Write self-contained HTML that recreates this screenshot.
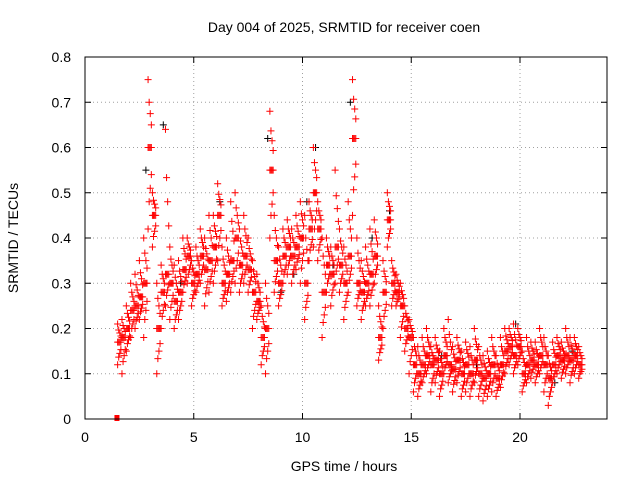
<!DOCTYPE html>
<html><head><meta charset="utf-8"><style>
body{margin:0;background:#fff}
svg text{font-family:"Liberation Sans",sans-serif;font-size:14px;fill:#000}
</style></head><body>
<svg id="chart" width="640" height="480" xmlns="http://www.w3.org/2000/svg">
<rect width="640" height="480" fill="#fff"/>
<g id="grid"></g>
<g id="axes"></g>
<g id="marks"></g>
<rect x="85" y="57" width="522" height="362" fill="none" stroke="#000" stroke-width="1"/>
<text x="344" y="32" text-anchor="middle">Day 004 of 2025, SRMTID for receiver coen</text>
<text transform="translate(18,238) rotate(-90)" text-anchor="middle">SRMTID / TECUs</text>
<text x="344" y="471" text-anchor="middle">GPS time / hours</text>
</svg>
<script>
const xTicks=[0,5,10,15,20];
const yTicks=[0,0.1,0.2,0.3,0.4,0.5,0.6,0.7,0.8];
const yTickLabels=["0","0.1","0.2","0.3","0.4","0.5","0.6","0.7","0.8"];
const startHour=1.5, stepHour=0.2;
const srmtidLow=[.12,.10,.15,.18,.20,.22,.18,.42,.38,.10,.20,.25,.22,.20,.22,.28,.30,.25,.28,.30,.25,.28,.30,.35,.25,.26,.28,.30,.28,.30,.28,.20,.22,.12,.10,.40,.28,.25,.30,.32,.30,.33,.30,.22,.35,.38,.35,.18,.28,.25,.30,.28,.22,.28,.45,.25,.22,.25,.25,.30,.13,.20,.38,.25,.25,.18,.15,.10,.06,.05,.08,.10,.06,.08,.05,.10,.08,.06,.08,.05,.06,.05,.08,.05,.04,.05,.06,.05,.07,.10,.12,.10,.12,.06,.08,.09,.08,.10,.06,.03,.08,.10,.09,.10,.08,.10,.09];
const srmtidMid=[.17,.18,.20,.24,.25,.27,.30,.60,.45,.20,.28,.32,.30,.26,.28,.33,.36,.30,.32,.36,.33,.35,.38,.45,.30,.32,.35,.40,.34,.36,.33,.28,.26,.18,.20,.55,.35,.30,.36,.38,.36,.38,.40,.30,.42,.50,.42,.28,.34,.32,.38,.34,.30,.36,.62,.30,.28,.30,.32,.36,.18,.28,.44,.30,.28,.25,.20,.18,.12,.10,.12,.14,.12,.13,.10,.14,.12,.11,.13,.10,.12,.10,.13,.10,.09,.10,.12,.09,.12,.15,.16,.14,.16,.10,.12,.13,.12,.14,.12,.09,.12,.14,.13,.14,.13,.14,.12];
const srmtidHigh=[.21,.22,.25,.30,.32,.35,.40,.75,.50,.30,.34,.64,.38,.34,.35,.40,.40,.35,.38,.42,.40,.45,.45,.52,.38,.40,.48,.50,.42,.45,.40,.35,.32,.25,.30,.68,.45,.38,.42,.44,.42,.45,.48,.45,.48,.60,.48,.40,.40,.38,.55,.42,.38,.48,.75,.40,.35,.38,.42,.44,.25,.35,.50,.35,.32,.30,.25,.22,.18,.16,.18,.20,.16,.18,.15,.20,.22,.16,.18,.15,.17,.16,.20,.16,.14,.15,.18,.14,.18,.20,.20,.21,.20,.15,.18,.17,.17,.20,.18,.14,.17,.18,.17,.20,.18,.18,.16];
const blackHours=[2.8,3.6,4.4,6.2,8.4,9.0,9.6,10.2,10.6,11.4,12.2,13.2,14.0,16.4,18.0,19.8,21.6,22.4];
const blackVals=[.55,.65,.30,.48,.62,.28,.32,.48,.60,.34,.70,.40,.46,.14,.12,.21,.08,.15];

const X=h=>85+h*(522/24), Y=v=>419-v*(362/0.8);
const NS="http://www.w3.org/2000/svg";
const grid=document.getElementById('grid'), axes=document.getElementById('axes'), marks=document.getElementById('marks');
function mk(tag,attrs,parent){const e=document.createElementNS(NS,tag);for(const k in attrs)e.setAttribute(k,attrs[k]);parent.appendChild(e);return e;}
xTicks.forEach(t=>{
  const x=X(t);
  if(t>0){const g=mk('line',{x1:x,x2:x,y1:57,y2:419,stroke:'#a0a0a0','stroke-dasharray':'1,3'},grid);
  
  }
  mk('line',{x1:x,x2:x,y1:419,y2:413,stroke:'#000'},axes);
  mk('line',{x1:x,x2:x,y1:57,y2:63,stroke:'#000'},axes);
  const l=mk('text',{x:x,y:442,'text-anchor':'middle'},axes);l.textContent=t;
  
  
});
yTicks.forEach((t,i)=>{
  const y=Y(t);
  if(i>0&&i<yTicks.length-1){const g=mk('line',{x1:85,x2:607,y1:y,y2:y,stroke:'#a0a0a0','stroke-dasharray':'1,3'},grid);
  
  }
  mk('line',{x1:85,x2:91,y1:y,y2:y,stroke:'#000'},axes);
  mk('line',{x1:607,x2:601,y1:y,y2:y,stroke:'#000'},axes);
  const l=mk('text',{x:71,y:y+5,'text-anchor':'end'},axes);l.textContent=yTickLabels[i];
  
  
});
function plus(h,v,c){
  const x=X(h),y=Y(v);
  const p=mk('path',{d:`M${x-3.5},${y}h7M${x},${y-3.5}v7`,stroke:c,'stroke-width':1,fill:'none'},marks);
  
  
}
blackHours.forEach((h,i)=>plus(h,blackVals[i],'#000'));
[srmtidLow,srmtidMid,srmtidHigh].forEach(s=>s.forEach((v,i)=>{
  const t=startHour+i*stepHour;
  plus(t,v,'#f00');
  plus(t+0.1,(v+srmtidMid[i])/2,'#f00');
  plus(t+0.05,(v*2+srmtidMid[i])/3,'#f00');
  plus(t+0.15,(v+srmtidMid[i]*2)/3,'#f00');
}));
const z=mk('rect',{x:X(1.4)-1,y:Y(0)-4,width:5,height:6,fill:'#f00'},marks);


</script>
</body></html>
